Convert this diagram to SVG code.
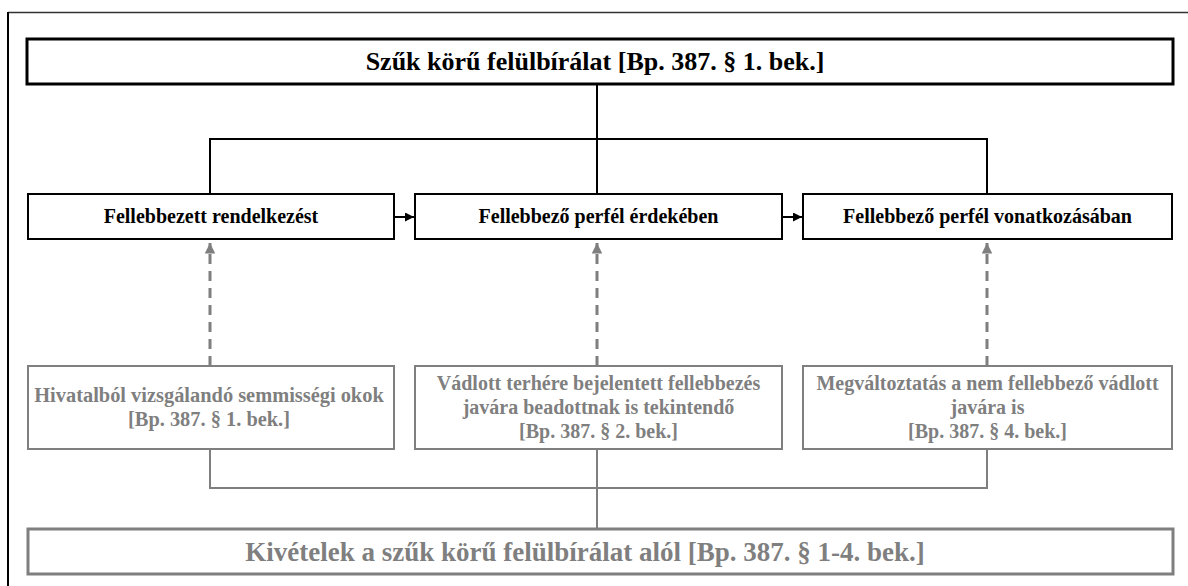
<svg xmlns="http://www.w3.org/2000/svg" width="1188" height="586" viewBox="0 0 1188 586">
<defs>
<style>
text{font-family:"Liberation Serif","Times New Roman",serif;font-weight:bold;text-anchor:middle}
.t-black{fill:#000}
.t-gray{fill:#7f7f7f}
.main{fill:#fff;stroke:#000;stroke-width:3}
.mid{fill:#fff;stroke:#000;stroke-width:2}
.exc{fill:#fff;stroke:#7f7f7f;stroke-width:2}
.excmain{fill:#fff;stroke:#7f7f7f;stroke-width:3}
.c-black{fill:none;stroke:#000;stroke-width:2}
.c-gray{fill:none;stroke:#7f7f7f;stroke-width:2}
.c-dash{fill:none;stroke:#7f7f7f;stroke-width:3;stroke-dasharray:10 7}
</style>
<marker id="ahBlack" viewBox="0 0 10 10" refX="10" refY="5" markerWidth="4.5" markerHeight="4.5" orient="auto" markerUnits="strokeWidth">
<path d="M0,0 L10,5 L0,10 z" fill="#000"/>
</marker>
<marker id="ahGray" viewBox="0 0 10 10" refX="10" refY="5" markerWidth="3.5" markerHeight="3.5" orient="auto" markerUnits="strokeWidth">
<path d="M0,0 L10,5 L0,10 z" fill="#7f7f7f"/>
</marker>
</defs>
<rect x="0" y="0" width="1188" height="586" fill="#fff"/>
<g id="frame">
<line x1="8" y1="12.5" x2="1188" y2="12.5" stroke="#333" stroke-width="1.5"/>
<line x1="8" y1="12" x2="8" y2="586" stroke="#000" stroke-width="2"/>
</g>
<g id="connectors">
<path class="c-black" d="M597,84 V194 M210,194 V139 H987 V194"/>
<path class="c-black" d="M394,217 H414" marker-end="url(#ahBlack)"/>
<path class="c-black" d="M782,217 H802" marker-end="url(#ahBlack)"/>
<path class="c-dash" d="M210,366 V243" marker-end="url(#ahGray)"/>
<path class="c-dash" d="M597,366 V243" marker-end="url(#ahGray)"/>
<path class="c-dash" d="M987,366 V243" marker-end="url(#ahGray)"/>
<path class="c-gray" d="M210,449 V488 H987 V449 M597,449 V529"/>
</g>
<g id="node-top">
<rect class="main" x="27" y="39" width="1146" height="45"/>
<text class="t-black" x="595" y="70" font-size="26">Szűk körű felülbírálat [Bp. 387. § 1. bek.]</text>
</g>
<g id="node-rendelkezes">
<rect class="mid" x="28" y="194" width="366" height="45"/>
<text class="t-black" x="211" y="223" font-size="20">Fellebbezett rendelkezést</text>
</g>
<g id="node-erdekeben">
<rect class="mid" x="415" y="194" width="367" height="45"/>
<text class="t-black" x="598.5" y="223" font-size="20">Fellebbező perfél érdekében</text>
</g>
<g id="node-vonatkozasaban">
<rect class="mid" x="803" y="194" width="369" height="45"/>
<text class="t-black" x="987.5" y="223" font-size="20">Fellebbező perfél vonatkozásában</text>
</g>
<g id="node-semmisseg">
<rect class="exc" x="28" y="366" width="366" height="83"/>
<text class="t-gray" x="209" y="402" font-size="20.4">Hivatalból vizsgálandó semmisségi okok</text>
<text class="t-gray" x="209" y="426" font-size="20.4">[Bp. 387. § 1. bek.]</text>
</g>
<g id="node-terhere">
<rect class="exc" x="415" y="366" width="367" height="83"/>
<text class="t-gray" x="598.5" y="390" font-size="20">Vádlott terhére bejelentett fellebbezés</text>
<text class="t-gray" x="598.5" y="414" font-size="20">javára beadottnak is tekintendő</text>
<text class="t-gray" x="598.5" y="438" font-size="20">[Bp. 387. § 2. bek.]</text>
</g>
<g id="node-megvaltoztatas">
<rect class="exc" x="803" y="366" width="369" height="83"/>
<text class="t-gray" x="987.5" y="390" font-size="20">Megváltoztatás a nem fellebbező vádlott</text>
<text class="t-gray" x="987.5" y="414" font-size="20">javára is</text>
<text class="t-gray" x="987.5" y="438" font-size="20">[Bp. 387. § 4. bek.]</text>
</g>
<g id="node-kivetelek">
<rect class="excmain" x="28" y="529" width="1145" height="45"/>
<text class="t-gray" x="585" y="561" font-size="27">Kivételek a szűk körű felülbírálat alól [Bp. 387. § 1-4. bek.]</text>
</g>
</svg>
